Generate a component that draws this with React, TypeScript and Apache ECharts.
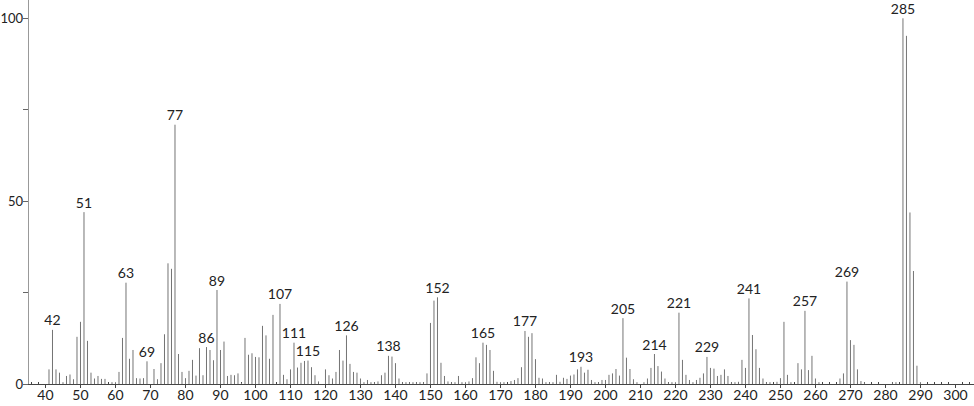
import { useEffect, useRef } from "react";
import * as echarts from "echarts";

// [m/z, relative intensity]
const peaks: [number, number][] = [
  [41, 4.0], [42, 14.8], [43, 4.0], [44, 3.1], [45, 0.5], [46, 2.2], [47, 2.6], [48, 1.3], [49, 12.9], [50, 17.0],
  [51, 47.0], [52, 11.8], [53, 3.1], [54, 1.5], [55, 2.2], [56, 1.4], [57, 1.4], [59, 0.5], [60, 0.5], [61, 3.3],
  [62, 12.6], [63, 27.7], [64, 6.9], [65, 9.3], [66, 1.6], [67, 1.5], [68, 1.6], [69, 6.2], [71, 4.1], [72, 1.3],
  [73, 5.7], [74, 13.6], [75, 33.0], [76, 31.5], [77, 70.9], [78, 8.2], [79, 3.3], [80, 1.6], [81, 3.6], [82, 6.6],
  [83, 2.3], [84, 9.8], [85, 2.4], [86, 10.1], [87, 9.3], [88, 6.5], [89, 25.7], [90, 9.3], [91, 11.6], [92, 2.2],
  [93, 2.5], [94, 2.4], [95, 2.9], [96, 0.3], [97, 12.6], [98, 8.0], [99, 8.4], [100, 7.4], [101, 7.3], [102, 15.9],
  [103, 13.3], [104, 6.9], [105, 18.9], [107, 21.9], [108, 2.5], [109, 1.3], [110, 4.0], [111, 11.3], [112, 4.5],
  [113, 5.8], [114, 6.3], [115, 6.4], [116, 4.6], [117, 2.4], [118, 0.7], [120, 4.0], [121, 2.4], [122, 1.5],
  [123, 3.3], [124, 9.3], [125, 6.4], [126, 13.3], [127, 5.5], [128, 3.3], [129, 3.1], [130, 1.5], [131, 0.5],
  [132, 1.1], [133, 0.5], [134, 0.5], [135, 0.7], [136, 2.4], [137, 3.1], [138, 7.7], [139, 7.5], [140, 5.7],
  [141, 1.5], [142, 0.5], [143, 0.5], [144, 0.5], [145, 0.5], [146, 0.5], [147, 0.5], [148, 0.5], [149, 2.9],
  [150, 16.7], [151, 22.8], [152, 23.7], [153, 5.8], [154, 2.2], [155, 0.7], [156, 0.5], [157, 0.5], [158, 2.2],
  [159, 0.5], [160, 0.5], [161, 0.7], [162, 1.6], [163, 7.3], [164, 5.7], [165, 11.3], [166, 10.7], [167, 9.3],
  [168, 3.6], [169, 0.6], [170, 0.5], [171, 0.5], [173, 0.8], [174, 1.1], [175, 1.6], [176, 4.6], [177, 14.5],
  [178, 12.9], [179, 13.9], [180, 6.8], [181, 1.7], [182, 1.5], [183, 0.5], [184, 0.5], [185, 0.5], [186, 2.5],
  [187, 0.6], [188, 1.7], [189, 1.4], [190, 2.3], [191, 2.6], [192, 4.0], [193, 4.7], [194, 3.1], [195, 3.9],
  [196, 1.1], [197, 0.5], [198, 0.5], [199, 1.1], [200, 1.1], [201, 2.5], [202, 2.9], [203, 4.1], [204, 2.3],
  [205, 18.0], [206, 7.2], [207, 4.1], [208, 1.3], [209, 0.5], [211, 0.5], [212, 1.5], [213, 4.4], [214, 8.2],
  [215, 4.9], [216, 3.4], [217, 1.5], [218, 0.5], [219, 0.5], [220, 0.5], [221, 19.5], [222, 6.6], [223, 2.5],
  [224, 1.1], [225, 0.5], [226, 1.1], [227, 1.7], [228, 2.9], [229, 7.4], [230, 4.4], [231, 4.2], [232, 2.2],
  [233, 2.5], [234, 4.0], [235, 2.2], [236, 0.5], [237, 0.5], [238, 0.6], [239, 6.6], [240, 4.4], [241, 23.4],
  [242, 13.4], [243, 9.5], [244, 4.4], [245, 1.5], [246, 0.5], [247, 0.5], [249, 0.6], [250, 1.6], [251, 17.0],
  [252, 2.5], [253, 0.5], [255, 5.7], [256, 4.0], [257, 20.0], [258, 3.8], [259, 7.7], [260, 1.5], [261, 0.5],
  [267, 1.5], [268, 2.9], [269, 28.0], [270, 12.0], [271, 10.7], [272, 4.0], [273, 0.8], [274, 0.5], [282, 0.5],
  [283, 0.5], [285, 100], [286, 95.2], [287, 46.9], [288, 30.9], [289, 5.0], [290, 0.5],
];

const labeledMz = [42, 51, 63, 69, 77, 86, 89, 107, 111, 115, 126, 138, 152, 165, 177, 193, 205, 214, 221, 229, 241, 257, 269, 285];

const xTickLabels = [40, 50, 60, 70, 80, 90, 100, 110, 120, 130, 140, 150, 160, 170, 180, 190, 200, 210, 220, 230, 240, 250, 260, 270, 280, 290, 300];
const xMinorTicks = [
  36, 38, 42, 44, 46, 48, 52, 54, 56, 58, 62, 64, 66, 68, 72, 74, 76, 78, 82, 84, 86, 88, 92, 94, 96, 98,
  102, 104, 106, 108, 112, 114, 116, 118, 122, 124, 126, 128, 132, 134, 136, 138, 142, 144, 146, 148,
  152, 154, 156, 158, 162, 164, 166, 168, 172, 174, 176, 178, 182, 184, 186, 188, 192, 194, 196, 198,
  202, 204, 206, 208, 212, 214, 216, 218, 222, 224, 226, 228, 232, 234, 236, 238, 242, 244, 246, 248,
  252, 254, 256, 258, 262, 264, 266, 268, 272, 274, 276, 278, 282, 284, 286, 288, 292, 294, 296, 298, 302, 304,
];
const yTickLabels = [0, 50, 100];
const yTicks = [0, 25, 50, 75, 100];

const FONT = "Lato, 'Noto Sans', sans-serif";

export default function App() {
  const ref = useRef<HTMLDivElement>(null);

  useEffect(() => {
    if (!ref.current) return;
    const chart = echarts.init(ref.current, null, { renderer: "svg" });
    const labeled = new Set(labeledMz);

    chart.setOption({
      animation: false,
      backgroundColor: "#ffffff",
      grid: { left: 28, right: 0, top: 0, bottom: 22, outerBoundsMode: "none", containLabel: false },
      xAxis: [
        {
          type: "value",
          min: 35,
          max: 305.3,
          splitLine: { show: false },
          axisLine: { show: true, lineStyle: { color: "#444", width: 1 } },
          axisTick: { show: true, customValues: xTickLabels, length: 4, lineStyle: { color: "#444" } },
          axisLabel: {
            customValues: xTickLabels,
            color: "#222",
            fontSize: 14,
            fontFamily: FONT,
            margin: 3,
          },
        },
        {
          type: "value",
          min: 35,
          max: 305.3,
          position: "bottom",
          splitLine: { show: false },
          axisLine: { show: false },
          axisTick: { show: true, customValues: xMinorTicks, inside: true, length: 2, lineStyle: { color: "#444" } },
          axisLabel: { show: false },
        },
      ],
      yAxis: {
        type: "value",
        min: 0,
        max: 105,
        splitLine: { show: false },
        axisLine: { show: true, lineStyle: { color: "#999", width: 1 } },
        axisTick: { show: true, customValues: yTicks, length: 5, lineStyle: { color: "#666" } },
        axisLabel: {
          customValues: yTickLabels,
          color: "#222",
          fontSize: 13,
          fontFamily: FONT,
          margin: 5,
        },
      },
      series: [
        {
          type: "custom",
          xAxisIndex: 0,
          yAxisIndex: 0,
          data: peaks,
          encode: { x: 0, y: 1 },
          renderItem: (params: any, api: any) => {
            const mz = api.value(0);
            const v = api.value(1);
            const base = api.coord([mz, 0]);
            const top = api.coord([mz, v]);
            const children: any[] = [
              {
                type: "line",
                shape: { x1: base[0], y1: base[1], x2: top[0], y2: top[1] },
                style: { stroke: "#747474", lineWidth: 1 },
              },
            ];
            if (labeled.has(mz)) {
              children.push({
                type: "text",
                x: top[0],
                y: top[1] - 3,
                style: {
                  text: String(mz),
                  align: "center",
                  verticalAlign: "bottom",
                  textAlign: "center",
                  textVerticalAlign: "bottom",
                  fill: "#222",
                  fontSize: 14,
                  fontFamily: FONT,
                },
              });
            }
            return { type: "group", children };
          },
        },
      ],
    });

    return () => chart.dispose();
  }, []);

  return (
    <div
      ref={ref}
      style={{ position: "fixed", left: 0, top: 0, width: 974, height: 406, background: "#fff" }}
    />
  );
}
